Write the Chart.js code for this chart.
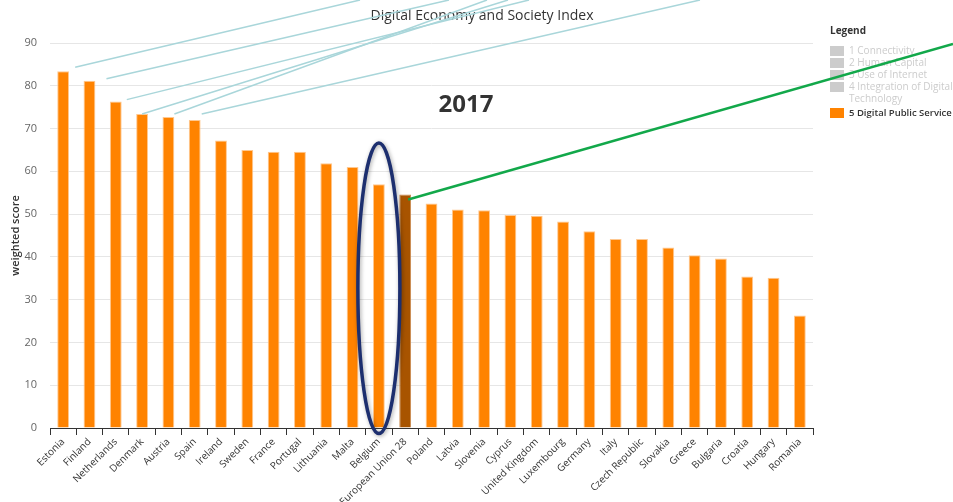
<!DOCTYPE html>
<html>
<head>
<meta charset="utf-8">
<script src="https://cdn.jsdelivr.net/npm/chart.js@4.4.1/dist/chart.umd.min.js"></script>
<style>
    html, body { margin: 0; padding: 0; background: #fff; }
    #desi { display: block; }
</style>
</head>
<body>
<canvas id="desi" width="953" height="502"></canvas>
<script>
// ================================
// DATA
// ================================
const countries = [
    'Estonia', 'Finland', 'Netherlands', 'Denmark', 'Austria', 'Spain',
    'Ireland', 'Sweden', 'France', 'Portugal', 'Lithuania', 'Malta',
    'Belgium', 'European Union 28', 'Poland', 'Latvia', 'Slovenia', 'Cyprus',
    'United Kingdom', 'Luxembourg', 'Germany', 'Italy', 'Czech Republic',
    'Slovakia', 'Greece', 'Bulgaria', 'Croatia', 'Hungary', 'Romania'
];

const scores = [
    83.4, 81.2, 76.3, 73.4, 72.7, 72.0,
    67.2, 65.0, 64.6, 64.6, 61.9, 61.0,
    57.0, 54.6, 52.5, 51.1, 50.9, 49.8,
    49.6, 48.3, 46.0, 44.2, 44.2,
    42.2, 40.4, 39.6, 35.4, 35.1, 26.3
];

const legendNames = [
    '1 Connectivity',
    '2 Human Capital',
    '3 Use of Internet',
    ['4 Integration of Digital', 'Technology'],
    '5 Digital Public Service'
];
const activeSeries = 4;   // only "5 Digital Public Service" is shown
const highlighted = 'European Union 28';
const yearLabel = '2017';

// ================================
// CONFIG
// ================================
const FONT = '"Open Sans", sans-serif';
const ORANGE = '#ff8300';
const EU_BROWN = '#a85400';

// hand-drawn callouts on top of the screenshot
const blueLines = [
    { country: 'Estonia',     dx: 12,  dy: -4, end: [360, 0] },
    { country: 'Finland',     dx: 17,  dy: -2, end: [449, 0] },
    { country: 'Netherlands', dx: 11,  dy: -2, end: [529, 0] },
    { country: 'Denmark',     dx: 0,   dy: 0,  end: [508, 0] },
    { country: 'Austria',     dx: 6,   dy: -3, end: [487, 0] },
    { country: 'Spain',       dx: 7,   dy: -6, end: [700, 0] }
];
const greenLine = { country: 'European Union 28', dx: 3, dy: 5, end: [953, 44] };
const ring = { country: 'Belgium', top: 66.6, bottom: -1.3, rx: 21 };

// ================================
// OVERLAY PLUGIN
// ================================
const overlay = {
    id: 'overlay',
    afterDraw(chart) {
        const ctx = chart.ctx;
        const x = chart.scales.x;
        const y = chart.scales.y;
        const bar = name => {
            const i = countries.indexOf(name);
            return { x: x.getPixelForValue(i), y: y.getPixelForValue(scores[i]) };
        };

        ctx.save();

        // title + year
        ctx.fillStyle = '#333';
        ctx.textAlign = 'center';
        ctx.textBaseline = 'middle';
        ctx.font = '14px ' + FONT;
        ctx.fillText('Digital Economy and Society Index', 482, 16);
        ctx.font = 'bold 24px ' + FONT;
        ctx.textBaseline = 'alphabetic';
        ctx.fillText(yearLabel, 466, 112);

        // legend
        ctx.textAlign = 'left';
        ctx.textBaseline = 'middle';
        ctx.font = 'bold 10px ' + FONT;
        ctx.fillStyle = '#333';
        ctx.fillText('Legend', 830, 31);
        let rowY = 51;
        legendNames.forEach((name, i) => {
            const on = i === activeSeries;
            const lines = Array.isArray(name) ? name : [name];
            ctx.fillStyle = on ? ORANGE : '#cccccc';
            ctx.fillRect(830, rowY - 5, 14, 10);
            ctx.fillStyle = on ? '#333' : '#cccccc';
            ctx.font = (on ? '600 9.5px ' : '10px ') + FONT;
            lines.forEach((t, k) => ctx.fillText(t, 849, rowY + k * 12));
            rowY += 12 * lines.length + (i === 3 ? 2 : 0);
        });

        // blue callout lines
        ctx.strokeStyle = '#a9d6da';
        ctx.lineWidth = 1.5;
        blueLines.forEach(l => {
            const p = bar(l.country);
            ctx.beginPath();
            ctx.moveTo(p.x + l.dx, p.y + l.dy);
            ctx.lineTo(l.end[0], l.end[1]);
            ctx.stroke();
        });

        // green line from EU average
        const g = bar(greenLine.country);
        ctx.strokeStyle = '#12a84a';
        ctx.lineWidth = 2.5;
        ctx.beginPath();
        ctx.moveTo(g.x + greenLine.dx, g.y + greenLine.dy);
        ctx.lineTo(greenLine.end[0], greenLine.end[1]);
        ctx.stroke();

        // ring round Belgium
        const b = bar(ring.country);
        const top = y.getPixelForValue(ring.top);
        const bottom = y.getPixelForValue(ring.bottom);
        ctx.strokeStyle = '#1d2f6f';
        ctx.lineWidth = 3.5;
        ctx.shadowColor = 'rgba(0,0,0,0.35)';
        ctx.shadowBlur = 4;
        ctx.shadowOffsetX = 1;
        ctx.shadowOffsetY = 1;
        ctx.beginPath();
        ctx.ellipse(b.x, (top + bottom) / 2, ring.rx, (bottom - top) / 2, 0, 0, Math.PI * 2);
        ctx.stroke();

        ctx.restore();
    }
};

// ================================
// CHART
// ================================
new Chart(document.getElementById('desi'), {
    type: 'bar',
    data: {
        labels: countries,
        datasets: [{
            label: '5 Digital Public Service',
            data: scores,
            backgroundColor: countries.map(c => c === highlighted ? EU_BROWN : ORANGE),
            borderColor: countries.map(c => c === highlighted ? '#c9894d' : '#ffc890'),
            borderWidth: 1,
            categoryPercentage: 1,
            barPercentage: 0.45
        }]
    },
    options: {
        responsive: false,
        animation: false,
        devicePixelRatio: 1,
        layout: { padding: { top: 43, right: 140, left: 0, bottom: 0 } },
        plugins: {
            legend: { display: false },
            title: { display: false },
            tooltip: { enabled: false }
        },
        scales: {
            x: {
                grid: {
                    offset: true,
                    drawOnChartArea: false,
                    color: '#333',
                    tickLength: 7
                },
                border: { color: '#333', width: 1 },
                ticks: {
                    autoSkip: false,
                    minRotation: 45,
                    maxRotation: 45,
                    padding: 1,
                    color: '#333',
                    font: { family: FONT, size: 10 }
                },
                afterFit: s => { s.height = 74; }
            },
            y: {
                min: 0,
                max: 90,
                ticks: {
                    stepSize: 10,
                    padding: 13,
                    color: '#666',
                    font: { family: FONT, size: 11 }
                },
                grid: { color: '#e6e6e6', drawTicks: false },
                border: { display: false },
                title: {
                    display: true,
                    text: 'weighted score',
                    color: '#333',
                    padding: { top: 9, bottom: 0 },
                    font: { family: FONT, size: 11, weight: '600' }
                },
                afterFit: s => { s.width = 50; }
            }
        }
    },
    plugins: [overlay]
});
</script>
</body>
</html>
